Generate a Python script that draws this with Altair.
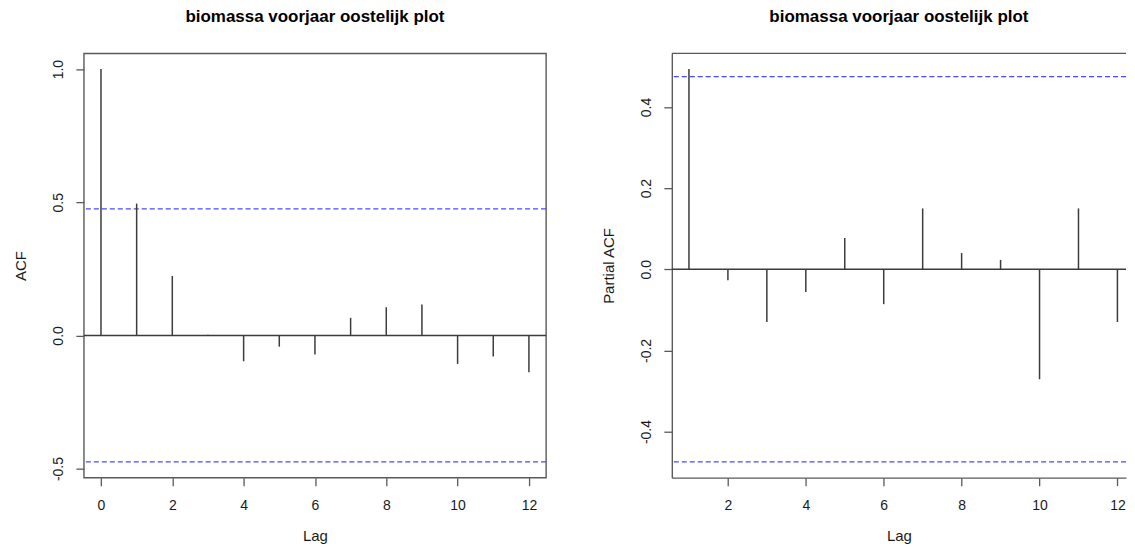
import altair as alt
import pandas as pd

# ---- data ----
title_text = "biomassa voorjaar oostelijk plot"

acf_lags = [0, 1, 2, 3, 4, 5, 6, 7, 8, 9, 10, 11, 12]
acf_vals = [1.0, 0.495, 0.223, 0.003, -0.097, -0.042, -0.072, 0.066, 0.106, 0.116, -0.107, -0.079, -0.138]

pacf_lags = [1, 2, 3, 4, 5, 6, 7, 8, 9, 10, 11, 12]
pacf_vals = [0.4935, -0.027, -0.130, -0.056, 0.077, -0.086, 0.150, 0.040, 0.023, -0.271, 0.150, -0.130]

conf_limit = 0.475

acf_x_ticks = [0, 2, 4, 6, 8, 10, 12]
acf_y_ticks = [-0.5, 0.0, 0.5, 1.0]
pacf_x_ticks = [2, 4, 6, 8, 10, 12]
pacf_y_ticks = [-0.4, -0.2, 0.0, 0.2, 0.4]

acf_x_domain = [-0.48, 12.48]
acf_y_domain = [-0.534, 1.059]
pacf_x_domain = [0.56, 12.22]
pacf_y_domain = [-0.5137, 0.5322]

SPIKE = "#3c3c3c"
FRAME = "#5a5a5a"
BLUE = "#4a4aff"
TEXT = "#1a1a1a"
FONT = "Liberation Sans"

label_expr = "replace(format(datum.value, '.1f'), '\u2212', '-')"


def panel(lags, vals, ylab, xdom, ydom, xticks, yticks, width, boxed):
    df = pd.DataFrame({"lag": lags, "value": vals})
    lim = pd.DataFrame({"b": [conf_limit, -conf_limit]})
    zero_df = pd.DataFrame({"z": [0.0]})

    xs = alt.Scale(domain=xdom, nice=False, zero=False)
    ys = alt.Scale(domain=ydom, nice=False, zero=False)

    xaxis = alt.Axis(values=xticks, title="Lag", format="d", domain=not boxed,
                     labelPadding=13, titleY=51, titleBaseline="top",
                     labelFlush=False, labelOverlap=False)
    yaxis = alt.Axis(values=yticks, title=ylab, labelExpr=label_expr, domain=not boxed,
                     labelAngle=270, labelAlign="center", labelBaseline="bottom",
                     labelPadding=10, titleAngle=270, titleBaseline="bottom",
                     titleX=-55, labelFlush=False, labelOverlap=False)

    spikes = alt.Chart(df).mark_rule(color=SPIKE, strokeWidth=1.5).encode(
        x=alt.X("lag:Q", scale=xs, axis=xaxis),
        y=alt.Y("value:Q", scale=ys, axis=yaxis),
        y2=alt.datum(0),
    )
    zero = alt.Chart(zero_df).mark_rule(color=SPIKE, strokeWidth=1.4).encode(
        y=alt.Y("z:Q", scale=ys, axis=yaxis)
    )
    bands = alt.Chart(lim).mark_rule(color=BLUE, strokeWidth=1.2, strokeDash=[5, 3]).encode(
        y=alt.Y("b:Q", scale=ys, axis=yaxis)
    )
    layers = [bands, zero, spikes]
    if not boxed:
        top = alt.Chart(zero_df).mark_rule(color=FRAME, strokeWidth=1.4).encode(
            y=alt.value(0)
        )
        layers.append(top)

    view = alt.ViewBackground(stroke=FRAME, strokeWidth=1.4) if boxed else alt.ViewBackground(strokeOpacity=0)

    return alt.layer(*layers, view=view).properties(
        width=width,
        height=425,
        title=alt.Title(title_text, font=FONT, fontSize=17, fontWeight="bold",
                        color="#000000", anchor="middle", offset=27),
    )


left = panel(acf_lags, acf_vals, "ACF", acf_x_domain, acf_y_domain,
             acf_x_ticks, acf_y_ticks, 463, True)
right = panel(pacf_lags, pacf_vals, "Partial ACF", pacf_x_domain, pacf_y_domain,
              pacf_x_ticks, pacf_y_ticks, 455, False)

chart = alt.hconcat(left, right, spacing=126, bounds="flush").properties(
    padding={"left": 5, "top": -1, "right": 0, "bottom": 0}
).configure_axis(
    labelFont=FONT, labelFontSize=14, labelColor=TEXT,
    titleFont=FONT, titleFontSize=15, titleFontWeight="normal", titleColor=TEXT,
    tickColor=FRAME, tickSize=8, tickWidth=1.3,
    domainColor=FRAME, domainWidth=1.4, grid=False,
).configure_view(stroke=FRAME, strokeWidth=1.4)

chart.save("out.html", embed_options={"renderer": "svg", "actions": False})
